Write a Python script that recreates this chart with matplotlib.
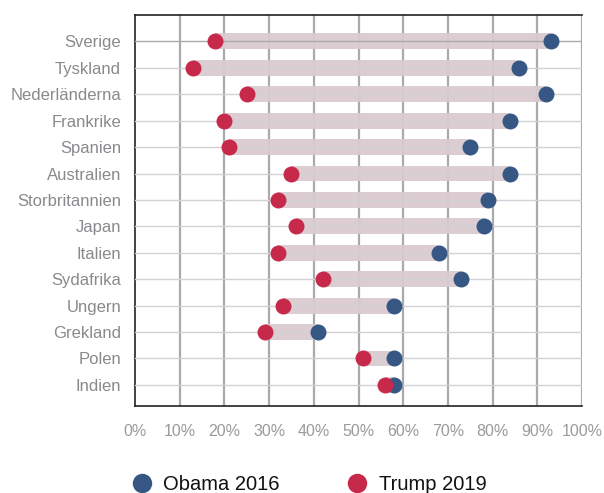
import numpy as np
import matplotlib.pyplot as plt
from matplotlib.lines import Line2D

plt.rcParams['font.family'] = ['Liberation Sans', 'DejaVu Sans']

countries = ['Sverige', 'Tyskland', 'Nederländerna', 'Frankrike', 'Spanien',
             'Australien', 'Storbritannien', 'Japan', 'Italien', 'Sydafrika',
             'Ungern', 'Grekland', 'Polen', 'Indien']
obama_2016 = [93, 86, 92, 84, 75, 84, 79, 78, 68, 73, 58, 41, 58, 58]
trump_2019 = [18, 13, 25, 20, 21, 35, 32, 36, 32, 42, 33, 29, 51, 56]
x_ticks = [0, 10, 20, 30, 40, 50, 60, 70, 80, 90, 100]

blue = '#365784'
red = '#c6294a'
band = '#d9cbd0'

fig = plt.figure(figsize=(6.04, 4.93), dpi=100)
ax = fig.add_axes([135 / 604, 1 - 406 / 493, 447 / 604, 391 / 493])

y = np.arange(len(countries))
lo = np.minimum(obama_2016, trump_2019)
hi = np.maximum(obama_2016, trump_2019)

# horisontella rutlinjer, första lite mörkare
for i in y:
    c = '#a9a9ae' if i == 0 else '#d2d2d4'
    ax.axhline(i, color=c, lw=1.0, zorder=3)

for xv in x_ticks[1:]:
    ax.axvline(xv, color='#a9a9ae', lw=1.6, zorder=1)

ax.barh(y, hi - lo, left=lo, height=0.6, color=band, alpha=0.95, zorder=2)
ax.plot(obama_2016, y, 'o', color=blue, ms=11.5, mec='none', zorder=4)
ax.plot(trump_2019, y, 'o', color=red, ms=11.5, mec='none', zorder=5)

ax.set_xlim(0, 100)
ax.set_ylim(13.8, -1)
ax.set_yticks(y)
ax.set_yticklabels(countries, fontsize=12, color='#8a8a8e')
ax.set_xticks(x_ticks)
ax.set_xticklabels([f'{v}%' for v in x_ticks], fontsize=11.5, color='#9a9a9e')
ax.tick_params(axis='both', length=0)
ax.tick_params(axis='y', pad=10)
ax.tick_params(axis='x', pad=13)

for s in ['left', 'top', 'bottom']:
    ax.spines[s].set_color('#222222')
    ax.spines[s].set_linewidth(1.2)
ax.spines['right'].set_visible(False)

handles = [Line2D([], [], ls='none', marker='o', ms=14, color=blue, mec='none'),
           Line2D([], [], ls='none', marker='o', ms=14, color=red, mec='none')]
fig.legend(handles, ['Obama 2016', 'Trump 2019'], loc='center left',
           bbox_to_anchor=(112 / 604, 1 - 485 / 493), ncol=2, frameon=False,
           fontsize=14.5, labelcolor='#111111', handletextpad=0.45,
           columnspacing=3.25, handlelength=1.2)

fig.savefig('out.png', dpi=100)
